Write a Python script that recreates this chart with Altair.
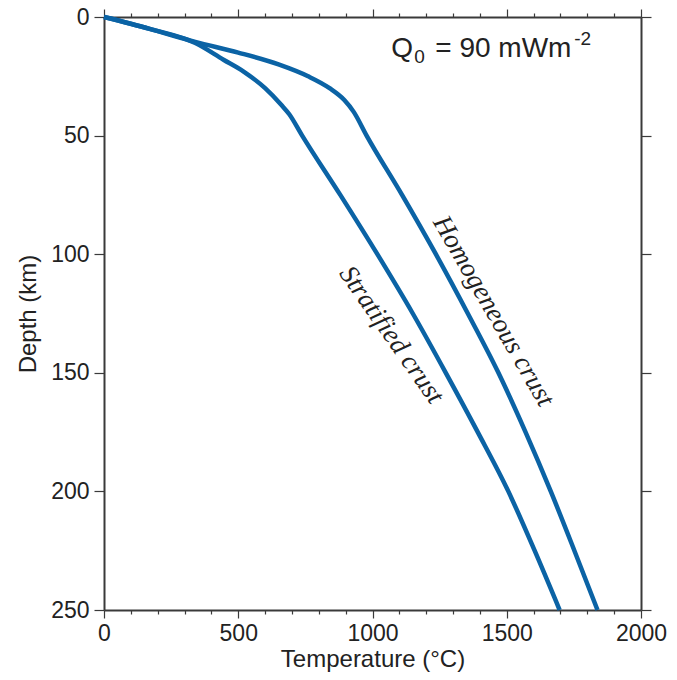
import altair as alt
import pandas as pd

# Homogeneous crust geotherm (temperature °C, depth km)
temp_h = [0, 170, 340, 500, 650, 760, 840, 895, 930, 978, 1110, 1236, 1355, 1469, 1570, 1664, 1752, 1838]
depth_h = [0, 5, 10.5, 15, 20, 25, 30, 35, 40, 50, 75, 100, 125, 150, 175, 200, 225, 250]

# Stratified crust geotherm
temp_s = [0, 170, 340, 445, 520, 600, 660, 690, 738, 880, 1018, 1150, 1273, 1392, 1506, 1604, 1697]
depth_s = [0, 5, 11, 18, 23, 30, 37, 41, 50, 75, 100, 125, 150, 175, 200, 225, 250]

x_ticks = list(range(0, 2001, 100))
y_ticks = list(range(0, 251, 50))

# annotations (data coordinates)
crust_labels = ["Homogeneous crust", "Stratified crust"]
crust_label_T = [1450, 1070]
crust_label_depth = [124, 134]

q_parts = ["Q", "0", "= 90 mWm", "-2"]
q_T = 1070
q_depth = 13.5

BLUE = "#0b63a5"
INK = "#222222"
FRAME = "#3a3a3a"

df = pd.concat([
    pd.DataFrame({"T": temp_h, "depth": depth_h, "crust": "Homogeneous"}),
    pd.DataFrame({"T": temp_s, "depth": depth_s, "crust": "Stratified"}),
])
lab = pd.DataFrame({"T": crust_label_T, "depth": crust_label_depth, "text": crust_labels})

x_scale = alt.Scale(domain=[0, 2000], nice=False, zero=False)
y_scale = alt.Scale(domain=[0, 250], reverse=True, nice=False, zero=False)

tick_cond = {"condition": {"test": "datum.value % 500 === 0", "value": 8}, "value": 4}

common_axis = dict(
    domainColor=FRAME, domainWidth=2, tickColor=FRAME, tickWidth=1.2,
    labelFont="Liberation Sans", labelFontSize=23, labelColor=INK,
    titleFont="Liberation Sans", titleFontSize=24, titleColor=INK, titleFontWeight="normal",
    grid=False, labelFlush=False, labelOverlap=False,
)

lines = alt.Chart(df).mark_line(strokeWidth=4.5, color=BLUE, interpolate="monotone").encode(
    x=alt.X("T:Q", scale=x_scale, axis=alt.Axis(
        orient="bottom", values=x_ticks, tickSize=tick_cond, format="d",
        labelExpr="datum.value % 500 === 0 ? datum.label : ''",
        labelPadding=4, title="Temperature (°C)", titlePadding=2, **common_axis)),
    y=alt.Y("depth:Q", scale=y_scale, axis=alt.Axis(
        orient="left", values=y_ticks, tickSize=10, labelPadding=5, format="d",
        title="Depth (km)", titlePadding=10, **common_axis)),
    detail="crust:N",
    order="depth:Q",
)

h_label = alt.Chart(lab.iloc[[0]]).mark_text(
    angle=60, font="Liberation Serif", fontStyle="italic", fontSize=27, color=INK,
    align="center", baseline="middle",
).encode(
    x=alt.X("T:Q", scale=x_scale, axis=alt.Axis(
        orient="top", values=x_ticks, tickSize=tick_cond, labels=False, title=None, **common_axis)),
    y=alt.Y("depth:Q", scale=y_scale, axis=alt.Axis(
        orient="right", values=y_ticks, tickSize=10, labels=False, title=None, **common_axis)),
    text="text:N",
)

s_label = alt.Chart(lab.iloc[[1]]).mark_text(
    angle=55, font="Liberation Serif", fontStyle="italic", fontSize=27, color=INK,
    align="center", baseline="middle",
).encode(
    x=alt.X("T:Q", scale=x_scale, axis=None),
    y=alt.Y("depth:Q", scale=y_scale, axis=None),
    text="text:N",
)

qdf = pd.DataFrame({"T": [q_T], "depth": [q_depth]})


def q_piece(txt, size, dx, dy):
    return alt.Chart(qdf).mark_text(
        text=txt, font="Liberation Sans", fontSize=size, color=INK,
        align="left", baseline="middle", dx=dx, dy=dy,
    ).encode(
        x=alt.X("T:Q", scale=x_scale, axis=None),
        y=alt.Y("depth:Q", scale=y_scale, axis=None),
    )


q_layers = [
    q_piece(q_parts[0], 28, 0, 0),
    q_piece(q_parts[1], 19, 23, 8),
    q_piece(q_parts[2], 28, 44, 0),
    q_piece(q_parts[3], 19, 183, -10),
]

chart = alt.layer(lines, h_label, s_label, *q_layers).resolve_axis(
    x="independent", y="independent"
).properties(
    width=537, height=593,
    autosize=alt.AutoSizeParams(type="none"),
    padding={"left": 96, "top": 9, "right": 28, "bottom": 62},
).configure_view(stroke=None).configure(background="white")

chart.save("out.html", embed_options={"renderer": "svg", "actions": False})
